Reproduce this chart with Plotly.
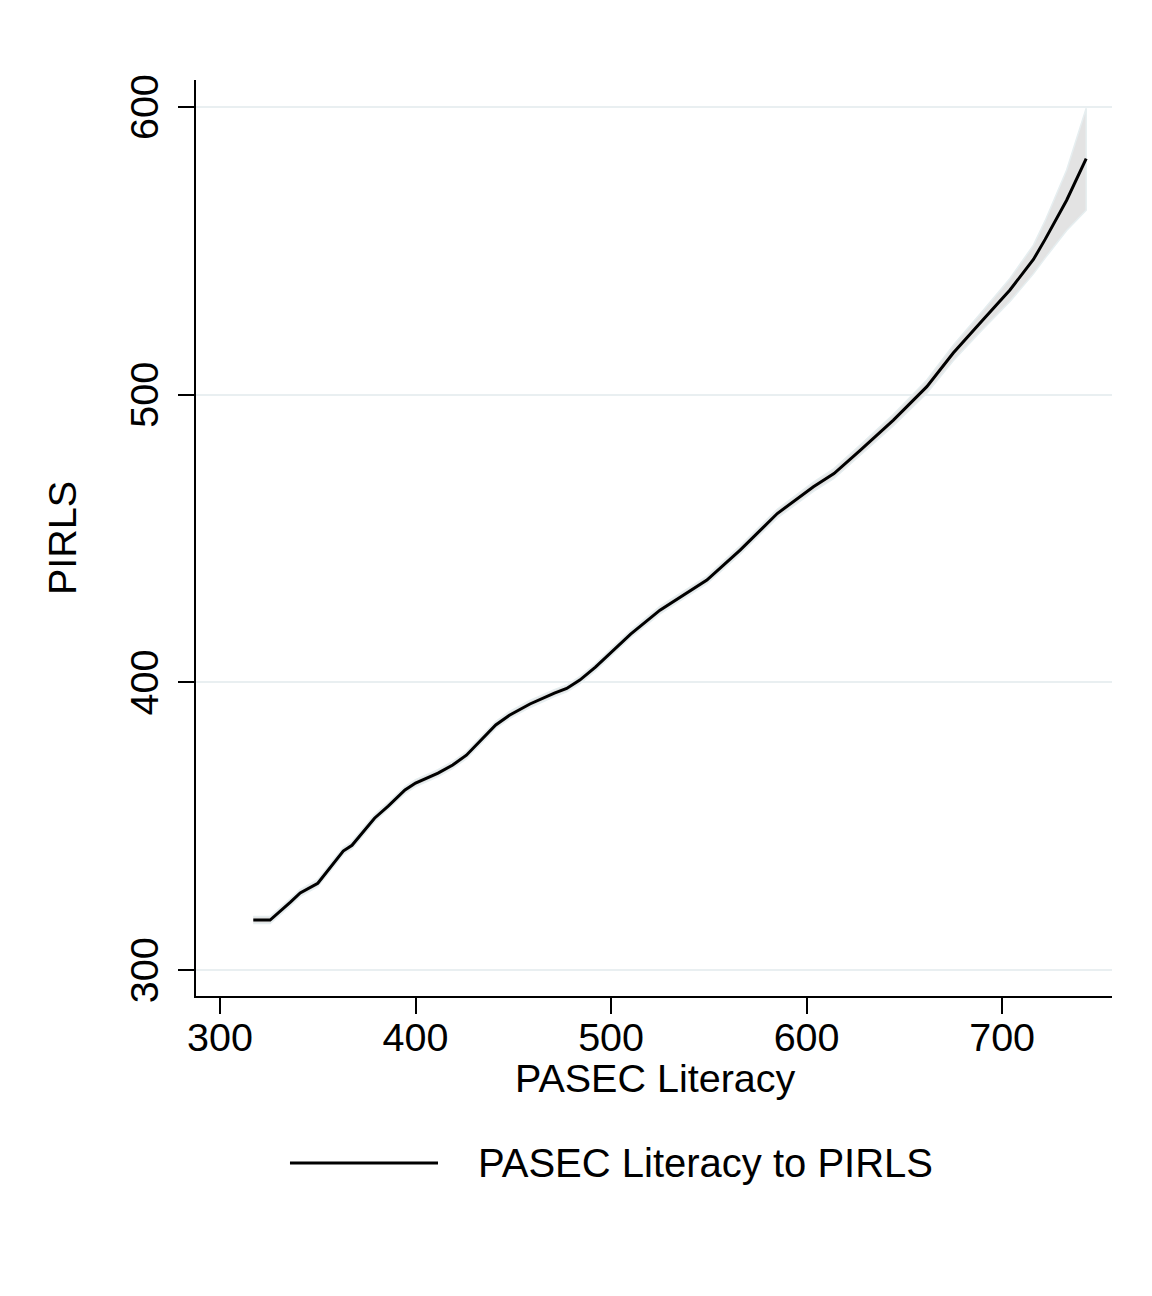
import plotly.graph_objects as go

# Data
pasec = [317, 325.6, 336, 341, 350, 363, 367.5, 379, 386, 394.6, 400, 411.5, 419, 426,
         441, 448, 458.5, 471, 477.3, 484, 492, 499.5, 510, 525, 535, 549, 566, 585,
         603.5, 614, 627.4, 644.4, 661.5, 675, 690, 704, 716, 722, 733, 743]
pirls = [317.4, 317.4, 323.6, 326.8, 330.2, 341.4, 343.4, 352.8, 357, 362.6, 365, 368.5,
         371.3, 374.7, 385.2, 388.6, 392.5, 396.3, 397.9, 400.8, 405.3, 410.1, 416.8,
         425.1, 429.6, 435.6, 446, 458.7, 468, 472.6, 480.7, 491.2, 502.8, 514.5, 525.9,
         536.4, 547, 554, 567.6, 582.1]
ci_up = [1.2, 1.2, 1.2, 1.2, 1.2, 1.2, 1.2, 1.2, 1.2, 1.2, 1.2, 1.2, 1.2, 1.2,
         1.2, 1.2, 1.2, 1.2, 1.2, 1.2, 1.2, 1.2, 1.2, 1.3, 1.3, 1.3, 1.4, 1.5,
         1.6, 1.7, 1.8, 2.0, 2.3, 2.7, 3.2, 4.0, 5.0, 6.5, 10.5, 17.5]
ci_dn = [1.2, 1.2, 1.2, 1.2, 1.2, 1.2, 1.2, 1.2, 1.2, 1.2, 1.2, 1.2, 1.2, 1.2,
         1.2, 1.2, 1.2, 1.2, 1.2, 1.2, 1.2, 1.2, 1.2, 1.3, 1.3, 1.3, 1.4, 1.5,
         1.6, 1.7, 1.8, 2.0, 2.3, 2.7, 3.2, 4.0, 5.0, 6.5, 10.5, 18.0]
xticks = [300, 400, 500, 600, 700]
yticks = [300, 400, 500, 600]
series_name = "PASEC Literacy to PIRLS"

upper = [p + u for p, u in zip(pirls, ci_up)]
lower = [p - d for p, d in zip(pirls, ci_dn)]

FONT = "Liberation Sans, Arial, sans-serif"
FS = 39.5

fig = go.Figure()
fig.add_trace(go.Scatter(
    x=pasec + pasec[::-1], y=upper + lower[::-1],
    fill="toself", fillcolor="#e3e3e3",
    line=dict(color="#e6eef0", width=1.5),
    hoverinfo="skip", showlegend=False))
fig.add_trace(go.Scatter(
    x=pasec, y=pirls, mode="lines", name=series_name,
    line=dict(color="black", width=3), showlegend=False))

fig.update_layout(
    width=1152, height=1296,
    paper_bgcolor="white", plot_bgcolor="white",
    margin=dict(l=188, r=48, t=72, b=308),
    font=dict(family=FONT, size=FS, color="black"),
    xaxis=dict(range=[287.7, 756.2], tickvals=xticks, ticks="outside",
               ticklen=16, tickwidth=2, tickcolor="black",
               showline=True, linecolor="black", linewidth=2,
               showgrid=False, zeroline=False, ticklabelstandoff=-10,
               tickfont=dict(size=FS, family=FONT)),
    yaxis=dict(range=[291, 609.4], tickvals=yticks, ticks="outside",
               ticklen=16, tickwidth=2, tickcolor="black",
               showline=True, linecolor="black", linewidth=2,
               showgrid=True, gridcolor="#e9eff1", gridwidth=2,
               zeroline=False, tickangle=-90, ticklabelstandoff=4,
               ticklabelshift=6,
               tickfont=dict(size=FS, family=FONT)),
    annotations=[
        dict(text="PIRLS", xref="paper", yref="paper", x=-0.1463, y=0.5,
             textangle=-90, showarrow=False, xanchor="center", yanchor="middle",
             font=dict(size=FS, family=FONT)),
        dict(text="PASEC Literacy", xref="paper", yref="paper", x=0.502, y=-0.0895,
             showarrow=False, xanchor="center", yanchor="middle",
             font=dict(size=FS, family=FONT)),
        dict(text=series_name, xref="paper", yref="paper", x=0.3057, y=-0.1823,
             showarrow=False, xanchor="left", yanchor="middle",
             font=dict(size=40, family=FONT)),
    ],
    shapes=[
        dict(type="line", xref="paper", yref="paper", x0=0.1026, x1=0.2642,
             y0=-0.1823, y1=-0.1823, line=dict(color="black", width=3)),
    ],
)

fig.write_html("out.html")
